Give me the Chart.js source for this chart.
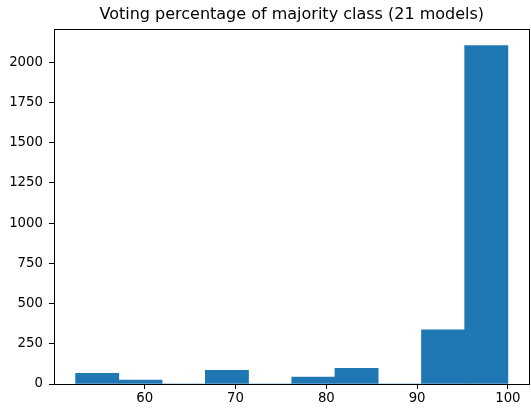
<!DOCTYPE html>
<html>
<head>
<meta charset="utf-8">
<script src="https://cdn.jsdelivr.net/npm/chart.js@4.4.1/dist/chart.umd.min.js"></script>
<style>
  html, body { margin: 0; padding: 0; background: #fff; }
  #wrap { width: 531px; height: 410px; }
</style>
</head>
<body>
<div id="wrap"><canvas id="chart" width="531" height="410"></canvas></div>
<script>
// histogram bins (voting % of majority class, 21 models)
const binEdges = [52.38, 57.14, 61.90, 66.67, 71.43, 76.19, 80.95, 85.71, 90.48, 95.24, 100];
const counts = [66, 25, 0, 85, 0, 43, 97, 0, 336, 2104];
const xTicks = [60, 70, 80, 90, 100];
const yTicks = [0, 250, 500, 750, 1000, 1250, 1500, 1750, 2000];

const points = counts.map(function(c, i) {
    return { x: (binEdges[i] + binEdges[i + 1]) / 2, y: c };
});

const font = { family: "DejaVu Sans", size: 13.3 };

// matplotlib style box round the axes
const frame = {
    id: "frame",
    afterDatasetsDraw(chart) {
        const a = chart.chartArea;
        const ctx = chart.ctx;
        ctx.save();
        ctx.strokeStyle = "#000";
        ctx.lineWidth = 1;
        ctx.strokeRect(Math.round(a.left) + 0.5, Math.round(a.top) + 0.5,
            Math.round(a.right - a.left) - 1, Math.round(a.bottom - a.top));
        ctx.restore();
    }
};

new Chart(document.getElementById("chart"), {
    type: "bar",
    data: {
        datasets: [{
            data: points,
            backgroundColor: "#1f77b4",
            borderWidth: 0,
            barPercentage: 1,
            categoryPercentage: 1
        }]
    },
    options: {
        responsive: false,
        animation: false,
        layout: { padding: { left: 0, right: 1.5, top: 0, bottom: 0 } },
        plugins: {
            legend: { display: false },
            tooltip: { enabled: false },
            title: {
                display: true,
                fullSize: false,
                text: "Voting percentage of majority class (21 models)",
                color: "#000",
                font: { family: "DejaVu Sans", size: 16, weight: "normal" },
                padding: { top: 5, bottom: 4.8 }
            }
        },
        scales: {
            x: {
                type: "linear",
                min: 50,
                max: 102.38,
                offset: false,
                afterBuildTicks(axis) {
                    axis.ticks = xTicks.map(v => ({ value: v }));
                },
                afterFit(axis) { axis.height = 26; },
                ticks: { color: "#000", font: font, padding: 2, maxRotation: 0,
                    callback: v => String(v) },
                grid: { offset: false, drawOnChartArea: false, drawTicks: true, tickLength: 5, tickColor: "#000" },
                border: { display: false }
            },
            y: {
                min: 0,
                max: 2207,
                afterBuildTicks(axis) {
                    axis.ticks = yTicks.map(v => ({ value: v }));
                },
                afterFit(axis) { axis.width = 54; },
                ticks: { color: "#000", font: font, padding: 6,
                    callback: v => String(v) },
                grid: { drawOnChartArea: false, drawTicks: true, tickLength: 5, tickColor: "#000" },
                border: { display: false }
            }
        }
    },
    plugins: [frame]
});
</script>
</body>
</html>
